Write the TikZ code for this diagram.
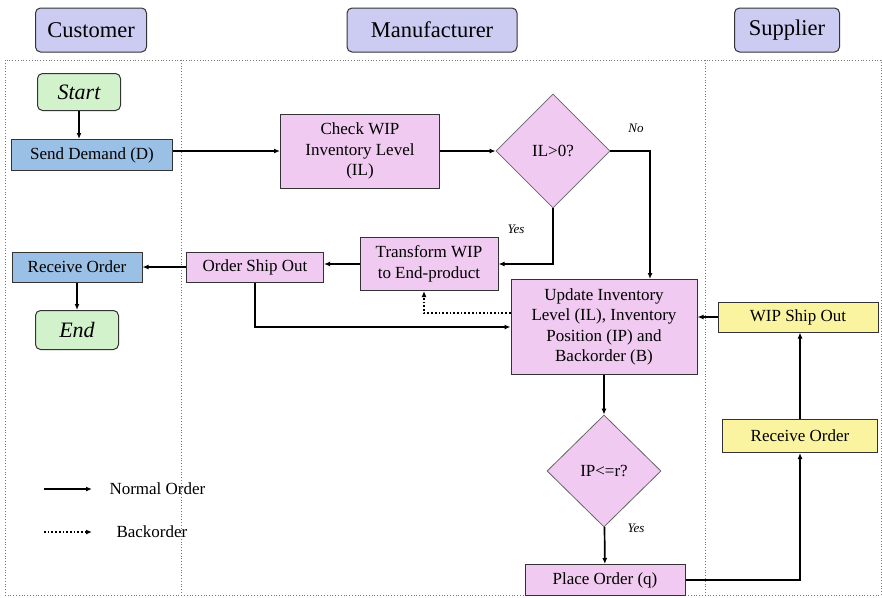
\documentclass[tikz,border=0pt]{standalone}
\usepackage{fontspec}
\setmainfont{Liberation Serif}
\usetikzlibrary{shapes.geometric,arrows.meta}
\usepackage{xcolor}
\definecolor{headfill}{RGB}{204,204,242}
\definecolor{termfill}{RGB}{210,242,204}
\definecolor{custfill}{RGB}{155,192,230}
\definecolor{manfill}{RGB}{240,202,240}
\definecolor{supfill}{RGB}{250,244,160}
\definecolor{lanegray}{RGB}{120,120,120}

\tikzset{
  lanehead/.style={draw=black!80, line width=1pt, rounded corners=5pt, fill=headfill,
    font=\fontsize{22.5}{26}\selectfont, inner sep=0pt},
  term/.style={draw=black!80, line width=1pt, rounded corners=5pt, fill=termfill,
    font=\fontsize{22}{26}\selectfont\itshape, inner sep=0pt},
  custbox/.style={draw=black!80, line width=1pt, fill=custfill, inner sep=0pt,
    font=\fontsize{17}{20}\selectfont},
  manbox/.style={draw=black!80, line width=1pt, fill=manfill, inner sep=0pt, align=center,
    font=\fontsize{17}{20.5}\selectfont},
  supbox/.style={draw=black!80, line width=1pt, fill=supfill, inner sep=0pt,
    font=\fontsize{17}{20}\selectfont},
  decide/.style={diamond, draw=black!60, line width=0.8pt, fill=manfill, inner sep=0pt,
    font=\fontsize{17}{20}\selectfont},
  flow/.style={->, line width=1.7pt},
  backflow/.style={->, line width=1.7pt, dotted},
  note/.style={font=\fontsize{13}{15}\selectfont\itshape}
}

\begin{document}
\begin{tikzpicture}[x=1pt, y=-1pt, >={Latex[length=6pt,width=5pt]}]
  \useasboundingbox (0,0) rectangle (882,597);

  % swim lanes
  \draw[lanegray, dotted, line width=0.8pt] (5,60) rectangle (881,595);
  \draw[lanegray, dotted, line width=0.8pt] (181,60) -- (181,595);
  \draw[lanegray, dotted, line width=0.8pt] (705,60) -- (705,595);

  \node[lanehead, minimum width=111pt, minimum height=44pt] (cust) at (91,30) {Customer};
  \node[lanehead, minimum width=170pt, minimum height=44pt] (manu) at (432,30) {Manufacturer};
  \node[lanehead, minimum width=105pt, minimum height=44pt] (supp) at (787,30) {Supplier};

  % customer
  \node[term, minimum width=83pt, minimum height=37pt] (start) at (79,92) {Start};
  \node[custbox, minimum width=161pt, minimum height=31pt] (send) at (92,155) {Send Demand (D)};
  \node[custbox, minimum width=130pt, minimum height=30pt] (rcv) at (77,267) {Receive Order};
  \node[term, minimum width=83pt, minimum height=39pt] (end) at (77,330) {End};

  % manufacturer
  \node[manbox, minimum width=159pt, minimum height=74pt] (check) at (360,151)
    {Check WIP\\Inventory Level\\(IL)};
  \node[decide, minimum width=114pt, minimum height=114pt] (il) at (553,151) {IL>0?};
  \node[manbox, minimum width=138pt, minimum height=53pt] (trans) at (429,264)
    {Transform WIP\\to End-product};
  \node[manbox, minimum width=137pt, minimum height=30pt] (oso) at (255,267) {Order Ship Out};
  \node[manbox, minimum width=186pt, minimum height=95pt] (update) at (604,327)
    {Update Inventory\\Level (IL), Inventory\\Position (IP) and\\Backorder (B)};
  \node[decide, minimum width=114pt, minimum height=112pt] (ip) at (604,471) {IP<=r?};
  \node[manbox, minimum width=160pt, minimum height=31pt] (place) at (605,580) {Place Order (q)};

  % supplier
  \node[supbox, minimum width=160pt, minimum height=30pt] (wipout) at (798,317) {WIP Ship Out};
  \node[supbox, minimum width=155pt, minimum height=33pt] (rcvs) at (800,436) {Receive Order};

  % connectors
  \draw[flow] (start) -- (start |- send.north);
  \draw[flow] (send.east |- check.west) -- (check.west);
  \draw[flow] (check) -- (il);
  \draw[flow] (il.east) -| ([xshift=46pt]update.north);
  \draw[flow] (il.south) |- (trans.east);
  \draw[flow] (trans.west) -- (trans.west -| oso.east);
  \draw[flow] (oso.west) -- (rcv.east);
  \draw[flow] (rcv) -- (end);
  \draw[flow] (oso.south) |- (update.west);
  \draw[backflow] ([yshift=14pt]update.west) -| ([xshift=-5pt]trans.south);
  \draw[flow] (wipout.west) -- (wipout.west -| update.east);
  \draw[flow] (rcvs.north) -- (rcvs.north |- wipout.south);
  \draw[flow] (update) -- (ip);
  \draw[flow] (ip) -- (place);
  \draw[flow] (place.east) -| (rcvs.south);

  \node[note] (no) at (636,128) {No};
  \node[note] (yes1) at (516,229) {Yes};
  \node[note] (yes2) at (636,528) {Yes};

  % legend
  \coordinate (n1) at (44,489);
  \coordinate (n2) at (92,489);
  \coordinate (b1) at (44,532);
  \coordinate (b2) at (92,532);
  \draw[flow, line width=1.5pt] (n1) -- (n2);
  \draw[backflow, line width=1.5pt] (b1) -- (b2);
  \node[anchor=west, font=\fontsize{17}{20}\selectfont] (normal) at (106,489) {Normal Order};
  \node[anchor=west, font=\fontsize{17}{20}\selectfont] (back) at (113,532) {Backorder};
\end{tikzpicture}
\end{document}
